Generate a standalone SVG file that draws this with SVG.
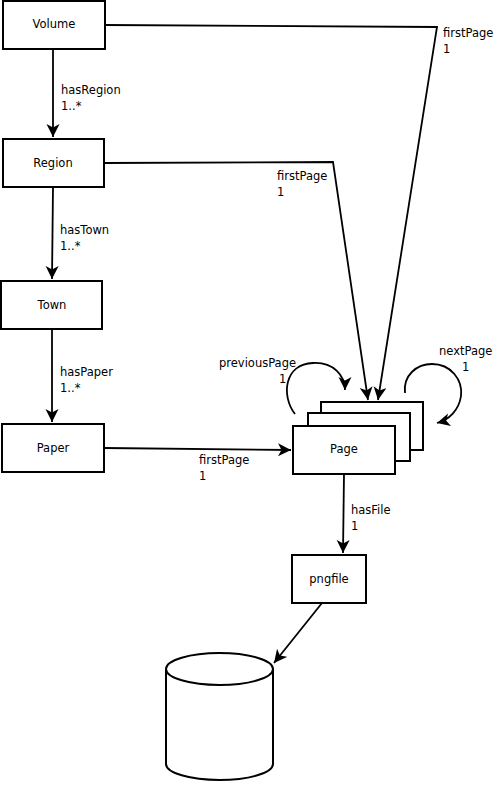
<svg xmlns="http://www.w3.org/2000/svg" width="495" height="806" viewBox="0 0 495 806">
<style>
.box{fill:#fff;stroke:#000;stroke-width:2}
.lbl{font-family:"DejaVu Sans",Verdana,sans-serif;font-size:11.5px;fill:#000}
.c{text-anchor:middle}
.edge{fill:none;stroke:#000;stroke-width:1.8}
</style>
<defs>
<marker id="arr" markerUnits="userSpaceOnUse" markerWidth="15" markerHeight="15" refX="13" refY="6.5" orient="auto">
<path d="M0,0 L13,6.5 L0,13 L3.5,6.5 z" fill="#000"/>
</marker>
</defs>
<rect width="495" height="806" fill="#fff"/>
<g id="connectors">
<path class="edge" d="M53,49 L53,137" marker-end="url(#arr)"/>
<path class="edge" d="M53,187 L52,279" marker-end="url(#arr)"/>
<path class="edge" d="M52,329 L52,422" marker-end="url(#arr)"/>
<path class="edge" d="M105,25 L437,27 L378,400" marker-end="url(#arr)"/>
<path class="edge" d="M104,163 L333,162 L368,400" marker-end="url(#arr)"/>
<path class="edge" d="M104,448 L291,450" marker-end="url(#arr)"/>
<path class="edge" d="M344,474 L343,553" marker-end="url(#arr)"/>
<path class="edge" d="M322,603 L274,663" marker-end="url(#arr)"/>
<path class="edge" d="M295,414 C281,396 284,364 313,363 C334,362 345,376 345,390" marker-end="url(#arr)"/>
<path class="edge" d="M405,393 C403,375 417,364 432,364 C451,364 463,380 461,396 C459,410 449,420 437,423" marker-end="url(#arr)"/>
<text class="lbl" x="61" y="94">hasRegion</text>
<text class="lbl" x="61" y="110">1..*</text>
<text class="lbl" x="60" y="234">hasTown</text>
<text class="lbl" x="60" y="250">1..*</text>
<text class="lbl" x="60" y="376">hasPaper</text>
<text class="lbl" x="60" y="392">1..*</text>
<text class="lbl" x="443" y="37">firstPage</text>
<text class="lbl" x="443" y="53">1</text>
<text class="lbl" x="277" y="180">firstPage</text>
<text class="lbl" x="277" y="196">1</text>
<text class="lbl" x="199" y="464">firstPage</text>
<text class="lbl" x="199" y="480">1</text>
<text class="lbl" x="351" y="514">hasFile</text>
<text class="lbl" x="351" y="530">1</text>
<text class="lbl" x="219" y="367">previousPage</text>
<text class="lbl" x="279" y="383">1</text>
<text class="lbl" x="439" y="355">nextPage</text>
<text class="lbl" x="462" y="371">1</text>
</g>
<g id="Volume">
<rect class="box" x="3" y="1" width="102" height="48"/>
<text class="lbl c" x="54" y="28">Volume</text>
</g>
<g id="Region">
<rect class="box" x="3" y="139" width="101" height="48"/>
<text class="lbl c" x="53" y="167">Region</text>
</g>
<g id="Town">
<rect class="box" x="1" y="281" width="101" height="48"/>
<text class="lbl c" x="52" y="309">Town</text>
</g>
<g id="Paper">
<rect class="box" x="2" y="424" width="102" height="48"/>
<text class="lbl c" x="53" y="452">Paper</text>
</g>
<g id="Page">
<rect class="box" x="321" y="402" width="102" height="48"/>
<rect class="box" x="308" y="413" width="102" height="48"/>
<rect class="box" x="293" y="426" width="102" height="48"/>
<text class="lbl c" x="344" y="453">Page</text>
</g>
<g id="pngfile">
<rect class="box" x="292" y="555" width="74" height="48"/>
<text class="lbl c" x="329" y="583">pngfile</text>
</g>
<g id="database">
<path class="box" d="M166,669 L166,764 A53.5,16 0 0 0 273,764 L273,669"/>
<ellipse class="box" cx="219.5" cy="669" rx="53.5" ry="16"/>
</g>
</svg>
